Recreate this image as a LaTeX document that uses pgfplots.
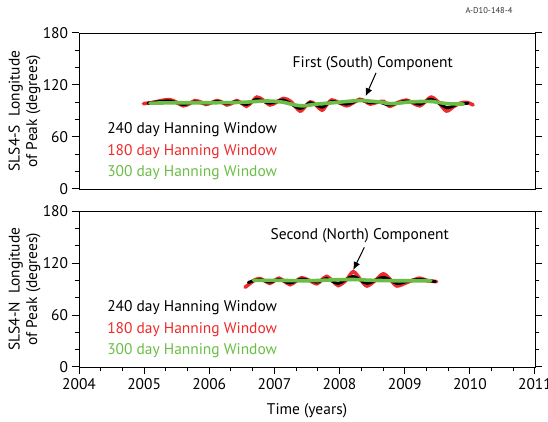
\documentclass[border=0pt]{standalone}
\usepackage{fontspec}
\setmainfont{PT Sans}
\usepackage{pgfplots}
\usetikzlibrary{arrows.meta}
\pgfplotsset{compat=1.18}
\definecolor{myred}{HTML}{EE2B2B}
\definecolor{mygreen}{HTML}{6BBD45}

\pgfplotstableread{
x y
2004.99 98.5
2005.10 99.5
2005.20 101
2005.30 102.5
2005.40 103
2005.50 100
2005.60 96
2005.70 98.5
2005.78 102
2005.88 100
2005.95 97.5
2006.05 100
2006.12 102
2006.20 100
2006.27 97
2006.35 99
2006.42 102
2006.50 99
2006.57 95.5
2006.65 100
2006.73 106
2006.82 103
2006.93 97
2007.03 100
2007.14 104.5
2007.25 101
2007.39 90
2007.47 95
2007.55 100.5
2007.62 98
2007.73 91
2007.80 97
2007.88 102.7
2007.98 100
2008.11 96
2008.20 99
2008.31 103.5
2008.40 101
2008.47 98
2008.60 100.5
2008.68 101
2008.77 95.5
2008.90 100
2009.03 102.5
2009.13 99
2009.23 96
2009.32 101
2009.41 106
2009.52 100
2009.64 90
2009.75 95
2009.85 99
2009.95 100
2010.05 97
}\topred

\pgfplotstableread{
x y
2005.06 99
2005.20 100.5
2005.40 101.5
2005.60 97.5
2005.78 100.5
2005.95 98.5
2006.12 101
2006.27 98.5
2006.42 101
2006.57 97.5
2006.73 103.5
2006.93 99
2007.14 102.5
2007.39 93
2007.55 99.5
2007.73 94.5
2007.88 101
2008.11 98
2008.31 102.5
2008.47 99.5
2008.60 100.5
2008.77 97
2009.03 101.5
2009.23 98
2009.41 103.5
2009.64 94
2009.80 97.5
2009.97 99
}\topblack

\pgfplotstableread{
x y
2005.09 99
2005.50 99.5
2006.00 99.5
2006.50 100
2006.85 101.5
2007.10 100.5
2007.40 96
2007.65 98
2007.90 99.5
2008.30 102
2008.60 100.5
2008.80 98.5
2009.10 100.5
2009.40 101
2009.65 98.5
2009.90 98
}\topgreen

\pgfplotstableread{
x y
2006.55 92
2006.62 96
2006.70 100.5
2006.78 102
2006.86 99
2006.93 96.5
2007.00 99.5
2007.07 102.5
2007.15 99
2007.24 95
2007.33 99
2007.42 103
2007.53 100
2007.65 96
2007.72 100
2007.80 104.5
2007.90 99
2007.98 94
2008.10 100
2008.21 110
2008.32 101
2008.42 93.5
2008.55 100
2008.67 107.5
2008.78 101
2008.88 93.5
2009.05 98
2009.23 102.5
2009.34 99.5
2009.42 99
2009.49 98.5
}\botred

\pgfplotstableread{
x y
2006.60 97.5
2006.70 100
2006.78 101
2006.93 98
2007.07 101
2007.24 97
2007.42 101.5
2007.65 98
2007.80 102
2007.98 96.5
2008.21 104.5
2008.42 96.5
2008.67 103.5
2008.88 96.5
2009.05 99
2009.23 101
2009.47 98.5
}\botblack

\pgfplotstableread{
x y
2006.68 100
2007.00 100
2007.50 99.5
2007.90 100.5
2008.20 101
2008.50 100
2008.90 99.5
2009.40 99.5
}\botgreen

\tikzset{
  txt/.style={font=\fontsize{15.5}{18}\selectfont, anchor=west},
}

\begin{document}
\begin{tikzpicture}
\useasboundingbox (0bp,0bp) rectangle (548bp,422bp);
\pgfplotsset{
  panel/.style={
    scale only axis, width=456bp, height=156bp,
    xmin=2004, xmax=2011, ymin=0, ymax=180,
    ytick={0,60,120,180}, minor ytick={20,40,80,100,140,160},
    ytick pos=both, tick align=outside,
    major tick length=7.5bp, minor tick length=4.5bp,
    axis line style={line width=0.9bp},
    tick style={black, line width=1bp},
    minor tick style={black, line width=1bp},
    tick label style={font=\fontsize{15.5}{18}\selectfont},
    /pgf/number format/assume math mode=true,
    /pgf/number format/1000 sep={},
    label style={font=\fontsize{15.5}{17.5}\selectfont},
    ylabel style={align=center, at={(axis description cs:-0.0768,0.5)}, anchor=south},
    clip=false,
  },
  sred/.style={myred, line width=3.6bp, smooth, line cap=round},
  sblk/.style={black, line width=3bp, smooth, line cap=round},
  sgrn/.style={mygreen, line width=3.6bp, smooth, line cap=round},
}
\node[font=\fontsize{8.5}{10}\selectfont, text=black!80] at (489bp,411bp) {A-D10-148-4};
% top panel
\begin{axis}[panel, at={(79bp,233bp)}, anchor=south west,
  xtick=\empty,
  ylabel={SLS4-S\ \ Longitude\\of Peak (degrees)}]
\addplot[sred] table {\topred};
\addplot[sblk] table {\topblack};
\addplot[sgrn] table {\topgreen};
\node[txt, text=black] at (axis cs:2004.38,68) {240 day Hanning Window};
\node[txt, text=myred] at (axis cs:2004.38,43) {180 day Hanning Window};
\node[txt, text=mygreen] at (axis cs:2004.38,18.5) {300 day Hanning Window};
\node[font=\fontsize{15.5}{18}\selectfont] at (axis cs:2008.51,145) {First (South) Component};
\draw[-{Latex[length=8bp,width=7bp]}, line width=1bp] (axis cs:2008.56,134) -- (axis cs:2008.40,107);
\end{axis}
% bottom panel
\begin{axis}[panel, at={(79bp,55bp)}, anchor=south west,
  xtick={2004,2005,...,2011},
  minor xtick={2004.333,2004.667,2005.333,2005.667,2006.333,2006.667,2007.333,2007.667,2008.333,2008.667,2009.333,2009.667,2010.333,2010.667},
  xtick pos=bottom,
  xlabel={Time (years)},
  xlabel style={at={(axis description cs:0.5,0)}, yshift=-44bp, anchor=center},
  ylabel={SLS4-N\ \ Longitude\\of Peak (degrees)}]
\addplot[sred] table {\botred};
\addplot[sblk] table {\botblack};
\addplot[sgrn] table {\botgreen};
\node[txt, text=black] at (axis cs:2004.38,68) {240 day Hanning Window};
\node[txt, text=myred] at (axis cs:2004.38,43) {180 day Hanning Window};
\node[txt, text=mygreen] at (axis cs:2004.38,18.5) {300 day Hanning Window};
\node[font=\fontsize{15.5}{18}\selectfont] at (axis cs:2008.31,152) {Second (North) Component};
\draw[-{Latex[length=8bp,width=7bp]}, line width=1bp] (axis cs:2008.38,138) -- (axis cs:2008.21,112);
\end{axis}
\end{tikzpicture}
\end{document}
